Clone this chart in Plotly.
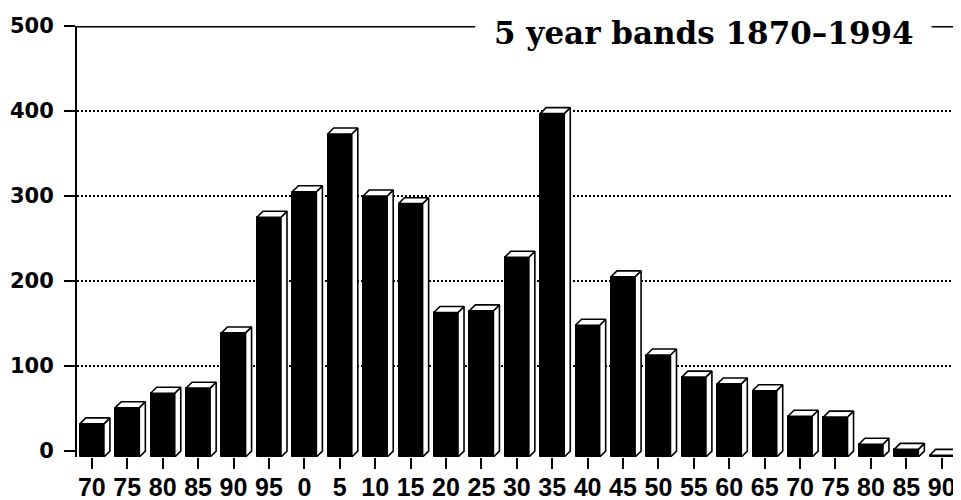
import plotly.graph_objects as go

# ---- data ----
categories = ["70", "75", "80", "85", "90", "95", "0", "5", "10", "15", "20", "25",
              "30", "35", "40", "45", "50", "55", "60", "65", "70", "75", "80", "85", "90"]
values = [39, 58, 75, 81, 146, 282, 312, 380, 307, 298, 170, 172,
          235, 404, 155, 212, 120, 94, 86, 78, 48, 47, 15, 9, 2]
y_ticks = [0, 100, 200, 300, 400, 500]
grid_vals = [100, 200, 300, 400]
title_text = "5 year bands 1870\u20131994"

# ---- 3D bar geometry (in axis units) ----
BAR_W = 0.68
DX = 0.17
DY = 7

xpos = list(range(len(categories)))

fig = go.Figure()

# front faces
fig.add_trace(go.Bar(
    x=xpos, y=values, base=-DY, width=BAR_W,
    marker=dict(color="black", line=dict(color="black", width=1)),
    hoverinfo="skip", showlegend=False,
))

top_x, top_y, side_x, side_y = [], [], [], []
for xi, v in zip(xpos, values):
    x0, x1 = xi - BAR_W / 2, xi + BAR_W / 2
    ft = v - DY
    top_x += [x0, x1, x1 + DX, x0 + DX, x0, None]
    top_y += [ft, ft, v, v, ft, None]
    side_x += [x1, x1, x1 + DX, x1 + DX, x1, None]
    side_y += [-DY, ft, v, 0, -DY, None]

for xs, ys in ((side_x, side_y), (top_x, top_y)):
    fig.add_trace(go.Scatter(
        x=xs, y=ys, mode="lines", fill="toself", fillcolor="white",
        line=dict(color="black", width=1.6), hoverinfo="skip", showlegend=False,
    ))

shapes = []
for g in grid_vals:
    shapes.append(dict(type="line", xref="paper", yref="y", x0=0, x1=1, y0=g, y1=g,
                       line=dict(color="black", width=2, dash="2px,2px"), layer="below"))
for a, b in ((0, 0.452), (0.970, 1)):
    shapes.append(dict(type="line", xref="paper", yref="y", x0=a, x1=b, y0=500, y1=500,
                       line=dict(color="black", width=3)))

# page body has an 8px margin, so the figure is sized/offset to compensate
fig.update_layout(
    width=953, height=492,
    margin=dict(l=69, r=3, t=18, b=43),
    paper_bgcolor="white", plot_bgcolor="white",
    bargap=0, showlegend=False, hovermode=False,
    shapes=shapes,
    annotations=[dict(
        text=title_text, xref="paper", yref="y", x=0.7117, y=500, yshift=-7,
        xanchor="center", yanchor="middle", showarrow=False,
        font=dict(family="DejaVu Serif", size=31, color="black", weight="bold"),
    )],
    xaxis=dict(
        range=[-0.42, 24.46], tickmode="array", tickvals=xpos, ticktext=categories,
        ticks="outside", ticklen=11, tickwidth=2, tickcolor="black",
        showline=False, showgrid=False, zeroline=False, automargin=False,
        ticklabelstandoff=-3,
        tickfont=dict(family="Liberation Sans", size=25, color="black", weight="bold"),
    ),
    yaxis=dict(
        range=[-DY, 500], tickmode="array", tickvals=y_ticks,
        ticks="outside", ticklen=11, tickwidth=2, tickcolor="black",
        showline=True, linewidth=2, linecolor="black", automargin=False,
        showgrid=False, zeroline=False, ticklabelstandoff=6,
        tickfont=dict(family="DejaVu Sans", size=21, color="black", weight="bold"),
    ),
)

fig.write_html("out.html")
